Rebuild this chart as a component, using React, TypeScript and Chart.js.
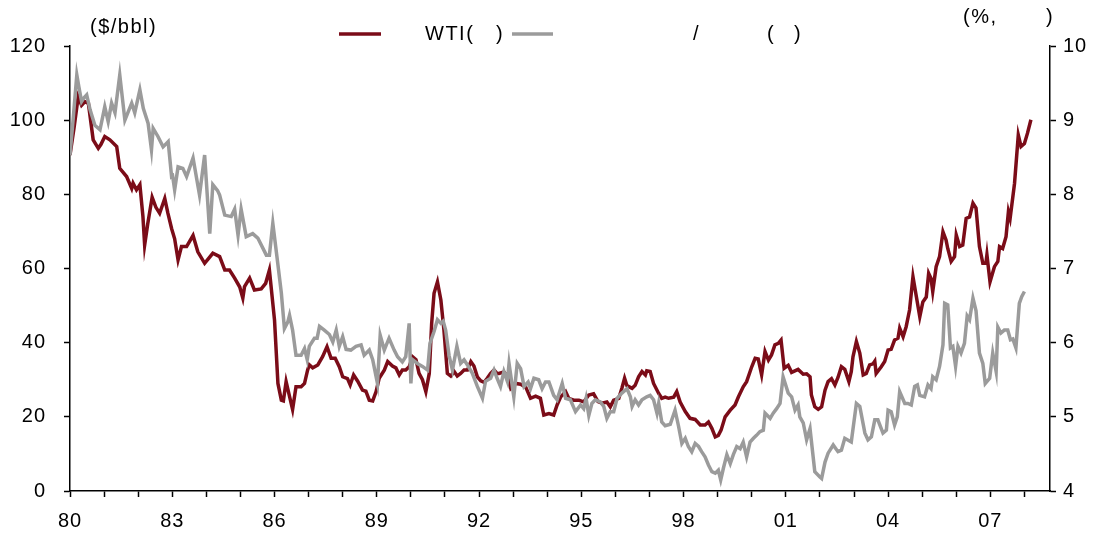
import React, { useEffect, useRef } from "react";
import { Chart, registerables } from "chart.js";

Chart.register(...registerables);

// WTI crude oil price ($/bbl, left axis)
const wtiYears = [
  1980.0, 1980.12, 1980.24, 1980.34, 1980.44, 1980.54, 1980.68, 1980.83, 1980.91, 1981.02,
  1981.17, 1981.37, 1981.46, 1981.66, 1981.81, 1981.85, 1981.95, 1982.05, 1982.14, 1982.19,
  1982.28, 1982.41, 1982.52, 1982.63, 1982.78, 1982.87, 1982.98, 1983.07, 1983.17, 1983.27,
  1983.42, 1983.61, 1983.75, 1983.95, 1984.19, 1984.39, 1984.54, 1984.68, 1984.83, 1984.98,
  1985.07, 1985.12, 1985.27, 1985.41, 1985.61, 1985.74, 1985.85, 1986.0, 1986.1, 1986.2,
  1986.26, 1986.34, 1986.44, 1986.53, 1986.63, 1986.78, 1986.88, 1986.97, 1987.02, 1987.12,
  1987.27, 1987.41, 1987.54, 1987.66, 1987.78, 1987.9, 1988.0, 1988.14, 1988.22, 1988.32,
  1988.44, 1988.58, 1988.68, 1988.78, 1988.88, 1988.98, 1989.07, 1989.22, 1989.32, 1989.46,
  1989.56, 1989.66, 1989.75, 1989.85, 1989.95, 1990.05, 1990.15, 1990.24, 1990.34, 1990.44,
  1990.54, 1990.61, 1990.68, 1990.78, 1990.88, 1990.97, 1991.07, 1991.17, 1991.27, 1991.36,
  1991.46, 1991.56, 1991.66, 1991.76, 1991.85, 1991.95, 1992.05, 1992.15, 1992.24, 1992.34,
  1992.44, 1992.53, 1992.58, 1992.73, 1992.83, 1992.93, 1993.07, 1993.22, 1993.37, 1993.51,
  1993.66, 1993.8, 1993.9, 1994.05, 1994.19, 1994.29, 1994.39, 1994.54, 1994.63, 1994.78,
  1994.93, 1995.07, 1995.22, 1995.36, 1995.49, 1995.61, 1995.75, 1995.85, 1995.95, 1996.1,
  1996.19, 1996.27, 1996.34, 1996.49, 1996.58, 1996.68, 1996.78, 1996.88, 1996.92, 1997.02,
  1997.12, 1997.27, 1997.36, 1997.46, 1997.56, 1997.71, 1997.8, 1997.9, 1998.05, 1998.19,
  1998.34, 1998.49, 1998.63, 1998.73, 1998.83, 1998.93, 1999.02, 1999.1, 1999.22, 1999.37,
  1999.51, 1999.61, 1999.75, 1999.85, 2000.0, 2000.1, 2000.19, 2000.29, 2000.39, 2000.49,
  2000.58, 2000.68, 2000.78, 2000.86, 2000.95, 2001.07, 2001.17, 2001.36, 2001.51, 2001.61,
  2001.71, 2001.75, 2001.85, 2001.95, 2002.05, 2002.15, 2002.24, 2002.34, 2002.44, 2002.53,
  2002.63, 2002.73, 2002.85, 2002.92, 2002.97, 2003.07, 2003.17, 2003.27, 2003.36, 2003.46,
  2003.56, 2003.61, 2003.65, 2003.8, 2003.9, 2004.0, 2004.09, 2004.19, 2004.29, 2004.34,
  2004.44, 2004.53, 2004.63, 2004.73, 2004.83, 2004.93, 2005.02, 2005.12, 2005.19, 2005.26,
  2005.31, 2005.41, 2005.51, 2005.61, 2005.7, 2005.75, 2005.85, 2005.95, 2006.0, 2006.1,
  2006.19, 2006.29, 2006.39, 2006.49, 2006.58, 2006.68, 2006.78, 2006.87, 2006.9, 2006.99,
  2007.12, 2007.22, 2007.27, 2007.36, 2007.46, 2007.53, 2007.58, 2007.71, 2007.82, 2007.9,
  2008.0, 2008.09, 2008.19,
];
const wtiValues = [
  90.6, 98, 106.3, 104, 105, 104.5, 94.7, 92.4, 93.5, 95.6,
  94.7, 92.9, 87.0, 84.8, 81.6, 83, 81.2, 82.6, 74, 66.3,
  72, 79.2, 76.5, 74.9, 78.9, 75, 70.8, 68, 62.3, 65.9,
  65.9, 68.9, 64.5, 61.4, 64.1, 63.2, 59.6, 59.6, 57.4, 55,
  52.0, 55.1, 57.4, 54.2, 54.5, 56, 59.6, 46.1, 29.0, 24.5,
  24.3, 29.5, 25.5, 22.0, 28.1, 28.1, 29.0, 32.6, 34.0, 33.2,
  34.0, 36.2, 38.9, 35.8, 35.8, 33.5, 30.8, 30.3, 28.6, 31.3,
  29.6, 27.2, 26.9, 24.5, 24.3, 26.8, 30.4, 32.6, 34.9, 33.7,
  33.2, 31.3, 32.6, 32.6, 33.5, 36.2, 35.4, 31.7, 30.0, 26.8,
  31.7, 45.2, 53.3, 56.4, 51.5, 43.4, 31.7, 31.0, 32.2, 31.0,
  31.7, 32.6, 32.6, 34.9, 33.7, 30.8, 29.7, 29.3, 30.4, 31.7,
  32.6, 31.7, 31.7, 32.1, 31.0, 27.7, 29.0, 28.8, 28.0, 25.0,
  25.6, 25.0, 20.5, 20.9, 20.5, 23.2, 25.3, 26.8, 25.0, 24.5,
  24.5, 24.0, 25.9, 26.2, 24.1, 23.7, 24.0, 22.7, 24.5, 25.0,
  27.7, 30.4, 28.4, 27.7, 28.5, 30.8, 32.2, 31.3, 32.4, 32.2,
  29.0, 26.3, 25.0, 25.3, 25.0, 25.3, 26.8, 24.0, 21.4, 19.6,
  19.3, 17.8, 17.8, 18.6, 16.9, 14.6, 15.0, 16.4, 20.0, 21.8,
  23.2, 25.4, 28.1, 29.5, 33.5, 35.8, 35.6, 31.3, 37.6, 35.3,
  36.7, 39.4, 39.8, 40.7, 33.1, 33.9, 32.0, 32.8, 31.5, 31.6,
  30.8, 25.9, 22.7, 22.0, 22.7, 27.2, 29.5, 30.3, 28.6, 30.6,
  33.5, 32.8, 29.5, 32.2, 36.2, 40.3, 37.2, 31.3, 31.7, 34.0,
  34.3, 35.0, 31.7, 33.5, 34.9, 38.0, 38.2, 40.7, 41.2, 43.9,
  41.6, 44.3, 48.8, 57.8, 52.4, 47.0, 51.0, 52.3, 58.7, 57.3,
  53.8, 60.5, 63.2, 69.9, 67.7, 65.4, 61.9, 63.2, 69.0, 65.9,
  66.3, 73.5, 73.9, 77.6, 76.3, 65.9, 61.4, 61.4, 63.7, 56.4,
  60.5, 61.9, 65.9, 65.4, 68.6, 75.3, 73.5, 83.0, 96.0, 92.9,
  93.7, 96.5, 100.1,
];

// Yield series (%, right axis)
const yieldYears = [
  1980.0, 1980.09, 1980.2, 1980.26, 1980.34, 1980.41, 1980.49, 1980.59, 1980.73, 1980.88,
  1981.02, 1981.12, 1981.22, 1981.32, 1981.46, 1981.61, 1981.81, 1981.9, 1982.05, 1982.15,
  1982.29, 1982.39, 1982.44, 1982.58, 1982.73, 1982.88, 1982.98, 1983.01, 1983.07, 1983.17,
  1983.31, 1983.42, 1983.61, 1983.72, 1983.8, 1983.95, 1984.1, 1984.19, 1984.33, 1984.39,
  1984.54, 1984.73, 1984.83, 1984.93, 1985.02, 1985.17, 1985.36, 1985.51, 1985.76, 1985.85,
  1985.95, 1986.1, 1986.2, 1986.29, 1986.39, 1986.44, 1986.53, 1986.63, 1986.78, 1986.88,
  1986.96, 1987.02, 1987.17, 1987.25, 1987.32, 1987.46, 1987.61, 1987.71, 1987.81, 1987.9,
  1988.0, 1988.1, 1988.24, 1988.39, 1988.54, 1988.63, 1988.78, 1988.88, 1989.02, 1989.1,
  1989.22, 1989.36, 1989.51, 1989.61, 1989.75, 1989.85, 1989.95, 1990.0, 1990.05, 1990.19,
  1990.34, 1990.49, 1990.56, 1990.68, 1990.78, 1990.88, 1990.95, 1991.02, 1991.12, 1991.22,
  1991.35, 1991.46, 1991.56, 1991.66, 1991.8, 1991.95, 1992.1, 1992.19, 1992.34, 1992.44,
  1992.53, 1992.63, 1992.73, 1992.83, 1992.88, 1993.02, 1993.12, 1993.22, 1993.32, 1993.44,
  1993.51, 1993.61, 1993.75, 1993.85, 1993.95, 1994.05, 1994.19, 1994.29, 1994.44, 1994.54,
  1994.68, 1994.83, 1994.98, 1995.07, 1995.14, 1995.22, 1995.31, 1995.41, 1995.56, 1995.66,
  1995.75, 1995.85, 1995.95, 1996.05, 1996.19, 1996.34, 1996.44, 1996.49, 1996.58, 1996.68,
  1996.78, 1996.92, 1997.02, 1997.12, 1997.22, 1997.27, 1997.36, 1997.46, 1997.61, 1997.75,
  1997.85, 1997.95, 1998.05, 1998.14, 1998.24, 1998.34, 1998.44, 1998.53, 1998.63, 1998.73,
  1998.83, 1998.93, 1999.02, 1999.09, 1999.17, 1999.27, 1999.37, 1999.46, 1999.56, 1999.66,
  1999.75, 1999.85, 1999.95, 2000.05, 2000.14, 2000.24, 2000.34, 2000.39, 2000.54, 2000.63,
  2000.73, 2000.83, 2000.92, 2001.07, 2001.17, 2001.27, 2001.36, 2001.41, 2001.51, 2001.61,
  2001.71, 2001.85, 2002.0, 2002.05, 2002.15, 2002.24, 2002.39, 2002.53, 2002.63, 2002.73,
  2002.92, 2003.07, 2003.17, 2003.32, 2003.41, 2003.51, 2003.61, 2003.7, 2003.85, 2003.95,
  2004.0, 2004.09, 2004.19, 2004.27, 2004.34, 2004.49, 2004.58, 2004.68, 2004.78, 2004.86,
  2004.93, 2005.07, 2005.17, 2005.26, 2005.31, 2005.41, 2005.51, 2005.61, 2005.66, 2005.75,
  2005.83, 2005.9, 2005.98, 2006.05, 2006.14, 2006.24, 2006.32, 2006.39, 2006.49, 2006.58,
  2006.68, 2006.78, 2006.85, 2006.98, 2007.07, 2007.17, 2007.22, 2007.31, 2007.41, 2007.51,
  2007.59, 2007.66, 2007.75, 2007.85, 2007.92, 2008.0,
];
const yieldValues = [
  8.53, 9.0, 9.61, 9.45, 9.25, 9.3, 9.34, 9.14, 8.93, 8.87,
  9.18, 8.98, 9.23, 9.1, 9.61, 9.0, 9.23, 9.1, 9.41, 9.16,
  8.96, 8.6, 8.89, 8.78, 8.64, 8.71, 8.24, 8.25, 8.06, 8.37,
  8.35, 8.24, 8.49, 8.2, 7.99, 8.53, 7.47, 8.13, 8.05, 7.99,
  7.72, 7.7, 7.8, 7.45, 7.8, 7.43, 7.47, 7.41, 7.18, 7.18,
  7.61, 7.05, 6.67, 6.19, 6.28, 6.37, 6.17, 5.83, 5.83, 5.92,
  5.77, 5.95, 6.06, 6.06, 6.22, 6.17, 6.11, 6.01, 6.17, 5.95,
  6.08, 5.91, 5.9, 5.95, 5.97, 5.83, 5.9, 5.77, 5.45, 6.1,
  5.9, 6.06, 5.9, 5.81, 5.74, 5.81, 6.26, 5.45, 5.77, 5.72,
  5.68, 5.63, 5.99, 6.15, 6.31, 6.26, 6.29, 6.17, 5.83, 5.63,
  5.95, 5.72, 5.77, 5.7, 5.59, 5.41, 5.25, 5.48, 5.52, 5.63,
  5.52, 5.41, 5.61, 5.48, 5.72, 5.27, 5.72, 5.65, 5.41, 5.47,
  5.38, 5.52, 5.5, 5.38, 5.47, 5.47, 5.29, 5.23, 5.45, 5.25,
  5.23, 5.07, 5.16, 5.11, 5.25, 5.02, 5.18, 5.23, 5.2, 5.14,
  4.98, 5.07, 5.07, 5.25, 5.32, 5.38, 5.27, 5.14, 5.23, 5.16,
  5.23, 5.27, 5.29, 5.23, 5.05, 5.18, 4.93, 4.88, 4.9, 5.09,
  4.88, 4.64, 4.71, 4.6, 4.53, 4.64, 4.6, 4.53, 4.46, 4.35,
  4.26, 4.24, 4.28, 4.15, 4.31, 4.49, 4.37, 4.49, 4.6, 4.57,
  4.66, 4.46, 4.66, 4.71, 4.75, 4.8, 4.82, 5.05, 4.98, 5.05,
  5.11, 5.18, 5.54, 5.32, 5.27, 5.09, 5.16, 5.0, 4.92, 4.69,
  4.84, 4.26, 4.19, 4.17, 4.39, 4.51, 4.62, 4.53, 4.55, 4.71,
  4.66, 5.18, 5.14, 4.78, 4.69, 4.73, 4.96, 4.96, 4.78, 4.82,
  5.09, 5.07, 4.89, 5.0, 5.34, 5.18, 5.18, 5.16, 5.41, 5.43,
  5.29, 5.27, 5.43, 5.38, 5.54, 5.5, 5.68, 5.97, 6.53, 6.51,
  5.93, 5.95, 5.68, 5.95, 5.86, 5.99, 6.36, 6.31, 6.6, 6.43,
  5.86, 5.72, 5.45, 5.52, 5.86, 5.61, 6.21, 6.13, 6.17, 6.17,
  6.04, 6.05, 5.93, 6.53, 6.62, 6.69,
];

const xTickYears = [
  1980, 1981, 1982, 1983, 1984, 1985, 1986, 1987, 1988, 1989, 1990, 1991, 1992, 1993, 1994,
  1995, 1996, 1997, 1998, 1999, 2000, 2001, 2002, 2003, 2004, 2005, 2006, 2007, 2008,
];
const xLabelYears = [1980, 1983, 1986, 1989, 1992, 1995, 1998, 2001, 2004, 2007];

const RED = "#7b0c18";
const GREY = "#9b9b9b";
const FONT = "'Liberation Sans', Arial, sans-serif";

export default function App() {
  const ref = useRef<HTMLCanvasElement | null>(null);

  useEffect(() => {
    document.body.style.margin = "0";
    const canvas = ref.current;
    if (!canvas) return;

    const spacing = {
      id: "letterSpacing",
      beforeUpdate(chart: any) {
        chart.ctx.letterSpacing = "1px";
      },
      beforeDraw(chart: any) {
        chart.ctx.letterSpacing = "1px";
      },
    };

    const overlay = {
      id: "overlayText",
      afterDraw(chart: any) {
        const ctx = chart.ctx;
        ctx.save();
        ctx.letterSpacing = "1.5px";
        ctx.fillStyle = "#000";
        ctx.textBaseline = "middle";
        ctx.textAlign = "left";
        ctx.font = `20px ${FONT}`;
        ctx.fillText("($/bbl)", 90, 27);
        ctx.fillText("(%,", 963, 17);
        ctx.fillText(")", 1046, 17);
        // legend
        ctx.lineWidth = 3.5;
        ctx.strokeStyle = RED;
        ctx.beginPath();
        ctx.moveTo(339, 34);
        ctx.lineTo(381, 34);
        ctx.stroke();
        ctx.strokeStyle = GREY;
        ctx.beginPath();
        ctx.moveTo(512, 34);
        ctx.lineTo(553, 34);
        ctx.stroke();
        ctx.fillText("WTI(", 425, 34);
        ctx.fillText(")", 496, 34);
        ctx.fillText("/", 693, 34);
        ctx.fillText("(", 767, 34);
        ctx.fillText(")", 794, 34);
        ctx.restore();
      },
    };

    const axisCommon = {
      grid: {
        display: true,
        drawOnChartArea: false,
        drawTicks: true,
        tickLength: 6,
        tickWidth: 1.5,
        tickColor: "#000",
      },
      border: { display: true, color: "#000", width: 1.5 },
    };

    const chart = new Chart(canvas, {
      type: "line",
      data: {
        datasets: [
          {
            label: "WTI",
            data: wtiYears.map((x, i) => ({ x, y: wtiValues[i] })),
            borderColor: RED,
            backgroundColor: RED,
            borderWidth: 3.5,
            pointRadius: 0,
            tension: 0,
            yAxisID: "y",
            order: 2,
          },
          {
            label: "yield",
            data: yieldYears.map((x, i) => ({ x, y: yieldValues[i] })),
            borderColor: GREY,
            backgroundColor: GREY,
            borderWidth: 3.5,
            pointRadius: 0,
            tension: 0,
            yAxisID: "y1",
            order: 1,
          },
        ],
      },
      options: {
        animation: false,
        responsive: false,
        maintainAspectRatio: false,
        layout: { padding: { top: 46, left: 0, right: 0, bottom: 0 } },
        plugins: {
          legend: { display: false },
          tooltip: { enabled: false },
        },
        scales: {
          x: {
            type: "linear",
            min: 1980,
            max: 2008.75,
            ...axisCommon,
            afterBuildTicks: (scale: any) => {
              scale.ticks = xTickYears.map((v) => ({ value: v }));
            },
            afterFit: (scale: any) => {
              scale.height = 47;
            },
            ticks: {
              autoSkip: false,
              maxRotation: 0,
              padding: 12,
              color: "#000",
              font: { family: FONT, size: 20 },
              callback: (v: any) =>
                xLabelYears.includes(Number(v)) ? String(Number(v) % 100).padStart(2, "0") : "",
            },
          },
          y: {
            type: "linear",
            position: "left",
            min: 0,
            max: 120,
            ...axisCommon,
            afterFit: (scale: any) => {
              scale.width = 70;
            },
            ticks: {
              stepSize: 20,
              padding: 18,
              color: "#000",
              font: { family: FONT, size: 20 },
            },
          },
          y1: {
            type: "linear",
            position: "right",
            min: 4,
            max: 10,
            ...axisCommon,
            afterFit: (scale: any) => {
              scale.width = 51;
            },
            ticks: {
              stepSize: 1,
              padding: 7,
              color: "#000",
              font: { family: FONT, size: 20 },
            },
          },
        },
      },
      plugins: [spacing, overlay],
    });

    return () => chart.destroy();
  }, []);

  return (
    <div style={{ width: 1101, height: 538, background: "#fff" }}>
      <canvas ref={ref} width={1101} height={538} style={{ display: "block" }} />
    </div>
  );
}
